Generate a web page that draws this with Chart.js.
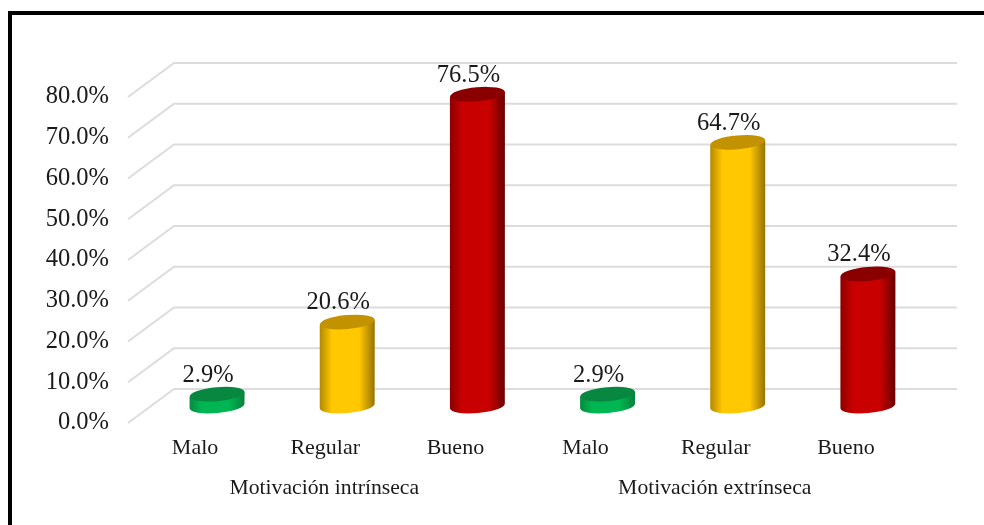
<!DOCTYPE html>
<html>
<head>
<meta charset="utf-8">
<style>
  html, body { margin: 0; padding: 0; background: #fff; overflow: hidden; }
  #wrap { position: relative; width: 984px; height: 525px; }
  #frame { position: absolute; left: 8px; top: 11px; right: 0; bottom: 0; border-top: 4px solid #000; border-left: 4px solid #000; }
  canvas { position: absolute; left: 0; top: 0; }
</style>
</head>
<body>
<div id="wrap">
  <canvas id="myChart" width="984" height="525"></canvas>
  <div id="frame"></div>
</div>
<script src="https://cdn.jsdelivr.net/npm/chart.js@4/dist/chart.umd.js"></script>
<script>
var categories = ["Malo", "Regular", "Bueno", "Malo", "Regular", "Bueno"];
var groupLabels = ["", "Motivación intrínseca", "", "", "Motivación extrínseca", ""];
var values = [2.9, 20.6, 76.5, 2.9, 64.7, 32.4];

// edge, middle, other edge, top cap
var shades = [
  ["#078a40", "#00b652", "#06803a", "#07873f"],
  ["#b38800", "#ffc800", "#967200", "#c29200"],
  ["#8c0000", "#c80000", "#680000", "#8a0000"],
  ["#078a40", "#00b652", "#06803a", "#07873f"],
  ["#b38800", "#ffc800", "#967200", "#c29200"],
  ["#8c0000", "#c80000", "#680000", "#8a0000"]
];

var serif = "'Liberation Serif', serif";
var depth = 17;      // half of the floor depth
var frontX = 128;
var backX = 174;
var backEnd = 957;

//gridlines on the wall and the side
var wallPlugin = {
  id: "wall",
  beforeDatasetsDraw: function(chart) {
    var ctx = chart.ctx;
    var y = chart.scales.y;
    ctx.save();
    ctx.strokeStyle = "#dcdcdc";
    ctx.lineWidth = 2;
    y.ticks.forEach(function(t) {
      var p = y.getPixelForValue(t.value);
      ctx.beginPath();
      ctx.moveTo(frontX, p + depth);
      ctx.lineTo(backX, p - depth);
      ctx.lineTo(backEnd, p - depth);
      ctx.stroke();
    });
    ctx.restore();
  }
};

//cylinders on top of the bar elements
var cylinderPlugin = {
  id: "cylinder",
  afterDatasetsDraw: function(chart) {
    var ctx = chart.ctx;
    var bars = chart.getDatasetMeta(0).data;
    var tilt = -0.09;
    var ry = 7;
    bars.forEach(function(bar, i) {
      var rx = bar.width / 2;
      var left = bar.x - rx;
      var right = bar.x + rx;
      var dy = rx * Math.sin(tilt);
      var g = ctx.createLinearGradient(left, 0, right, 0);
      g.addColorStop(0, shades[i][0]);
      g.addColorStop(0.22, shades[i][1]);
      g.addColorStop(0.72, shades[i][1]);
      g.addColorStop(1, shades[i][2]);

      ctx.save();
      ctx.fillStyle = g;
      ctx.beginPath();
      ctx.moveTo(left, bar.y - dy);
      ctx.lineTo(left, bar.base - dy);
      ctx.ellipse(bar.x, bar.base, rx, ry, tilt, Math.PI, 0, true);
      ctx.lineTo(right, bar.y + dy);
      ctx.closePath();
      ctx.fill();

      ctx.fillStyle = shades[i][3];
      ctx.beginPath();
      ctx.ellipse(bar.x, bar.y, rx, ry, tilt, 0, Math.PI * 2);
      ctx.fill();

      ctx.fillStyle = "#1a1a1a";
      ctx.font = "24.5px " + serif;
      ctx.textAlign = "center";
      ctx.textBaseline = "middle";
      ctx.fillText(values[i].toFixed(1) + "%", bar.x - 9, bar.y - 19);
      ctx.restore();
    });
  }
};

new Chart("myChart", {
  type: "bar",
  data: {
    labels: categories,
    datasets: [{
      data: values,
      backgroundColor: "transparent",
      barThickness: 55
    }]
  },
  plugins: [wallPlugin, cylinderPlugin],
  options: {
    responsive: false,
    animation: false,
    events: [],
    layout: { padding: { top: 80, right: 51, bottom: 0, left: 0 } },
    plugins: {
      legend: { display: false },
      title: { display: false },
      tooltip: { enabled: false }
    },
    scales: {
      y: {
        min: 0,
        max: 80,
        border: { display: false },
        grid: { display: false },
        afterFit: function(scale) { scale.width = 152; },
        ticks: {
          stepSize: 10,
          padding: 35,
          labelOffset: 17,
          color: "#1a1a1a",
          font: { family: serif, size: 24.5 },
          callback: function(v) { return v.toFixed(1) + "%"; }
        }
      },
      x: {
        border: { display: false },
        grid: { display: false },
        afterFit: function(scale) { scale.height = 60; },
        ticks: {
          padding: 21,
          labelOffset: -22,
          autoSkip: false,
          maxRotation: 0,
          color: "#1a1a1a",
          font: { family: serif, size: 22 }
        }
      },
      x2: {
        type: "category",
        position: "bottom",
        weight: 1,
        labels: groupLabels,
        border: { display: false },
        grid: { display: false },
        afterFit: function(scale) { scale.height = 59; },
        ticks: {
          padding: 1,
          labelOffset: -23,
          autoSkip: false,
          maxRotation: 0,
          color: "#1a1a1a",
          font: { family: serif, size: 21.7 }
        }
      }
    }
  }
});
</script>
</body>
</html>
